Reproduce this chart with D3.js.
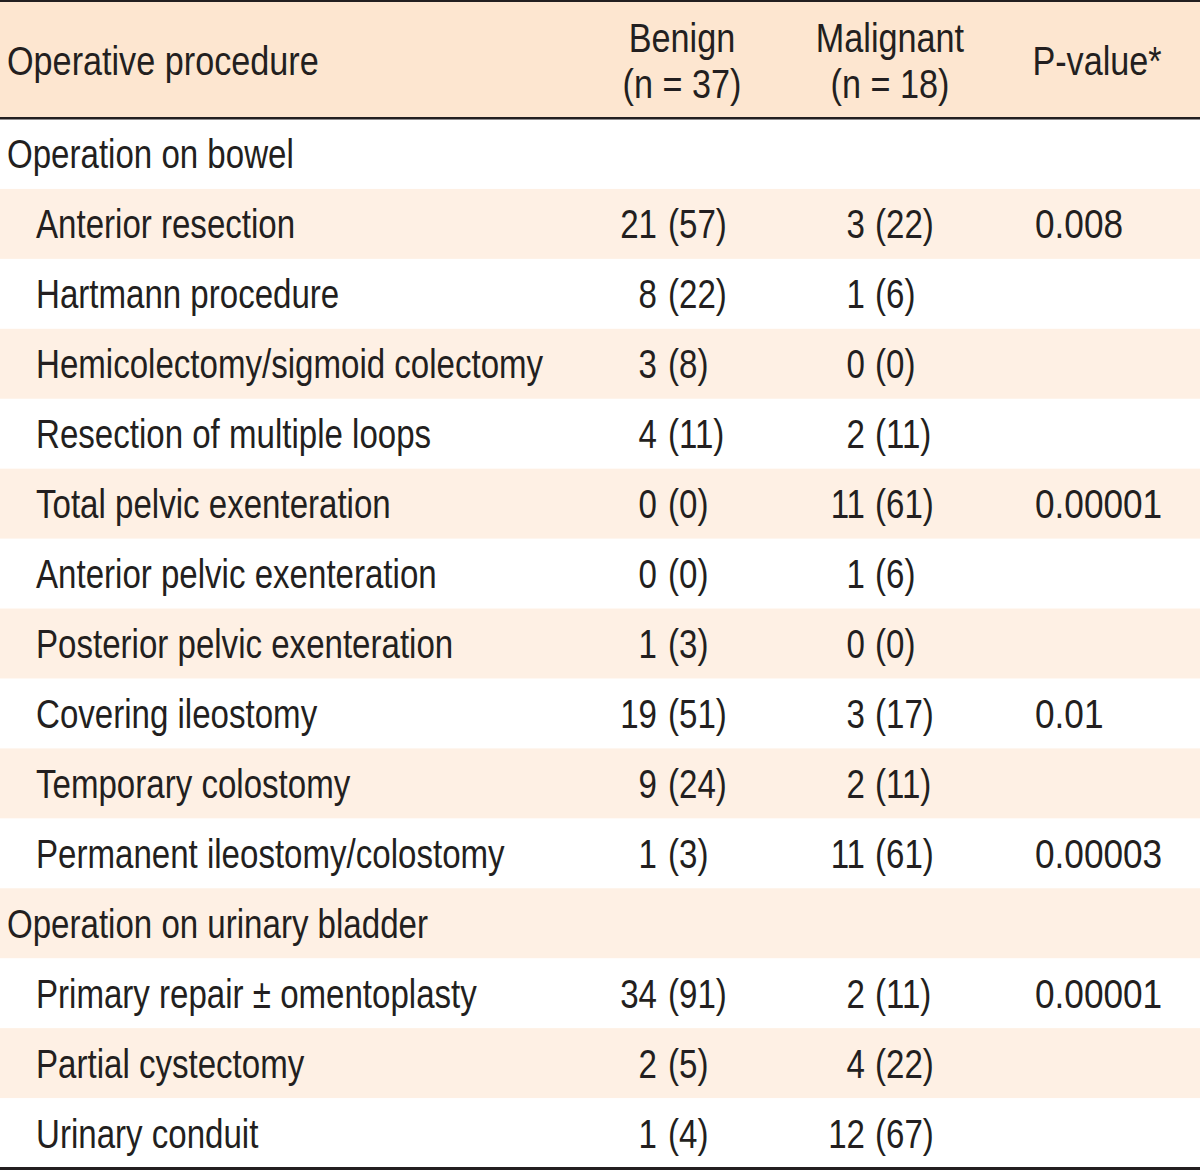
<!DOCTYPE html>
<html>
<head>
<meta charset="utf-8">
<script src="https://cdn.jsdelivr.net/npm/d3@7"></script>
<style>
  html, body { margin: 0; padding: 0; background: #fff; }
  svg { display: block; }
  text { font-family: "Liberation Sans", Arial, sans-serif; font-size: 40px; fill: #231f20; }
</style>
</head>
<body>
<svg id="chart" width="1200" height="1171"></svg>
<script>
// ---- data ----
const rowLabels = [
  "Operation on bowel",
  "Anterior resection",
  "Hartmann procedure",
  "Hemicolectomy/sigmoid colectomy",
  "Resection of multiple loops",
  "Total pelvic exenteration",
  "Anterior pelvic exenteration",
  "Posterior pelvic exenteration",
  "Covering ileostomy",
  "Temporary colostomy",
  "Permanent ileostomy/colostomy",
  "Operation on urinary bladder",
  "Primary repair \u00b1 omentoplasty",
  "Partial cystectomy",
  "Urinary conduit"
];
const rowIsGroup = [true,false,false,false,false,false,false,false,false,false,false,true,false,false,false];
const benignCount    = [null,21,8,3,4,0,0,1,19,9,1,null,34,2,1];
const benignPct      = [null,57,22,8,11,0,0,3,51,24,3,null,91,5,4];
const malignantCount = [null,3,1,0,2,11,1,0,3,2,11,null,2,4,12];
const malignantPct   = [null,22,6,0,11,61,6,0,17,11,61,null,11,22,67];
const pValues        = [null,"0.008",null,null,null,"0.00001",null,null,"0.01",null,"0.00003",null,"0.00001",null,null];
const headerCols = ["procedure","benign","malignant","p"];
const headerLines = [["Operative procedure"],["Benign","(n = 37)"],["Malignant","(n = 18)"],["P-value*"]];

// ---- layout ----
const W = 1200, H = 1171;
const headerTop = 2, headerBottom = 118, tableBottom = 1168;
const headBg = "#fde6d0", stripeBg = "#fef0e4", ink = "#231f20";
const SX = 0.827;   // horizontal condensing to mimic a condensed face
const SXH = 0.855;  // header text
const SXP = 0.88;   // p-values

const svg = d3.select("#chart");
const rowIdx = d3.range(rowLabels.length);
const y = d3.scaleBand().domain(rowIdx).range([headerBottom + 1, tableBottom]).padding(0);

const colCenter = d3.scaleOrdinal().domain(headerCols).range([7, 682, 890, 1097]);
const countEnd = d3.scaleOrdinal().domain(["benign","malignant"]).range([657, 865]);
const pctStart = d3.scaleOrdinal().domain(["benign","malignant"]).range([668, 875]);
const pStart = 1035;
const base = 14.5;
const rowY = i => y(i) + y.bandwidth() / 2 + base;
const tf = (x, yy, s) => `translate(${x},${yy}) scale(${s || SX},1)`;

// header background
svg.append("rect").attr("x", 0).attr("y", headerTop).attr("width", W).attr("height", headerBottom - headerTop).attr("fill", headBg);

// stripes
svg.selectAll("rect.stripe").data(rowIdx.filter(i => i % 2 === 1)).join("rect")
  .attr("class", "stripe")
  .attr("x", 0).attr("y", i => y(i)).attr("width", W).attr("height", y.bandwidth())
  .attr("fill", stripeBg);

// rules
svg.append("rect").attr("x", 0).attr("y", 0).attr("width", W).attr("height", 2).attr("fill", ink);
svg.append("rect").attr("x", 0).attr("y", headerBottom - 1).attr("width", W).attr("height", 2.5).attr("fill", ink);
svg.append("rect").attr("x", 0).attr("y", tableBottom - 1).attr("width", W).attr("height", 3).attr("fill", ink);

// header text
const hMid = (headerTop + headerBottom) / 2;
headerLines.forEach((lines, ci) => {
  const col = headerCols[ci];
  const lh = 46;
  const startY = hMid + base - (lines.length - 1) * lh / 2;
  lines.forEach((ln, li) => {
    svg.append("text")
      .attr("text-anchor", ci === 0 ? "start" : "middle")
      .attr("transform", tf(colCenter(col), startY + li * lh, SXH))
      .text(ln);
  });
});

// row labels
svg.selectAll("text.label").data(rowIdx).join("text")
  .attr("class", "label")
  .attr("transform", i => tf(rowIsGroup[i] ? 7 : 36, rowY(i)))
  .text(i => rowLabels[i]);

// counts and percents
[["benign", benignCount, benignPct], ["malignant", malignantCount, malignantPct]].forEach(([key, counts, pcts]) => {
  const rows = rowIdx.filter(i => counts[i] !== null);
  svg.selectAll("text.cnt-" + key).data(rows).join("text")
    .attr("class", "cnt-" + key)
    .attr("text-anchor", "end")
    .attr("transform", i => tf(countEnd(key), rowY(i)))
    .text(i => counts[i]);
  svg.selectAll("text.pct-" + key).data(rows).join("text")
    .attr("class", "pct-" + key)
    .attr("transform", i => tf(pctStart(key), rowY(i)))
    .text(i => "(" + pcts[i] + ")");
});

// p-values
svg.selectAll("text.pval").data(rowIdx.filter(i => pValues[i] !== null)).join("text")
  .attr("class", "pval")
  .attr("transform", i => tf(pStart, rowY(i), SXP))
  .text(i => pValues[i]);
</script>
</body>
</html>
